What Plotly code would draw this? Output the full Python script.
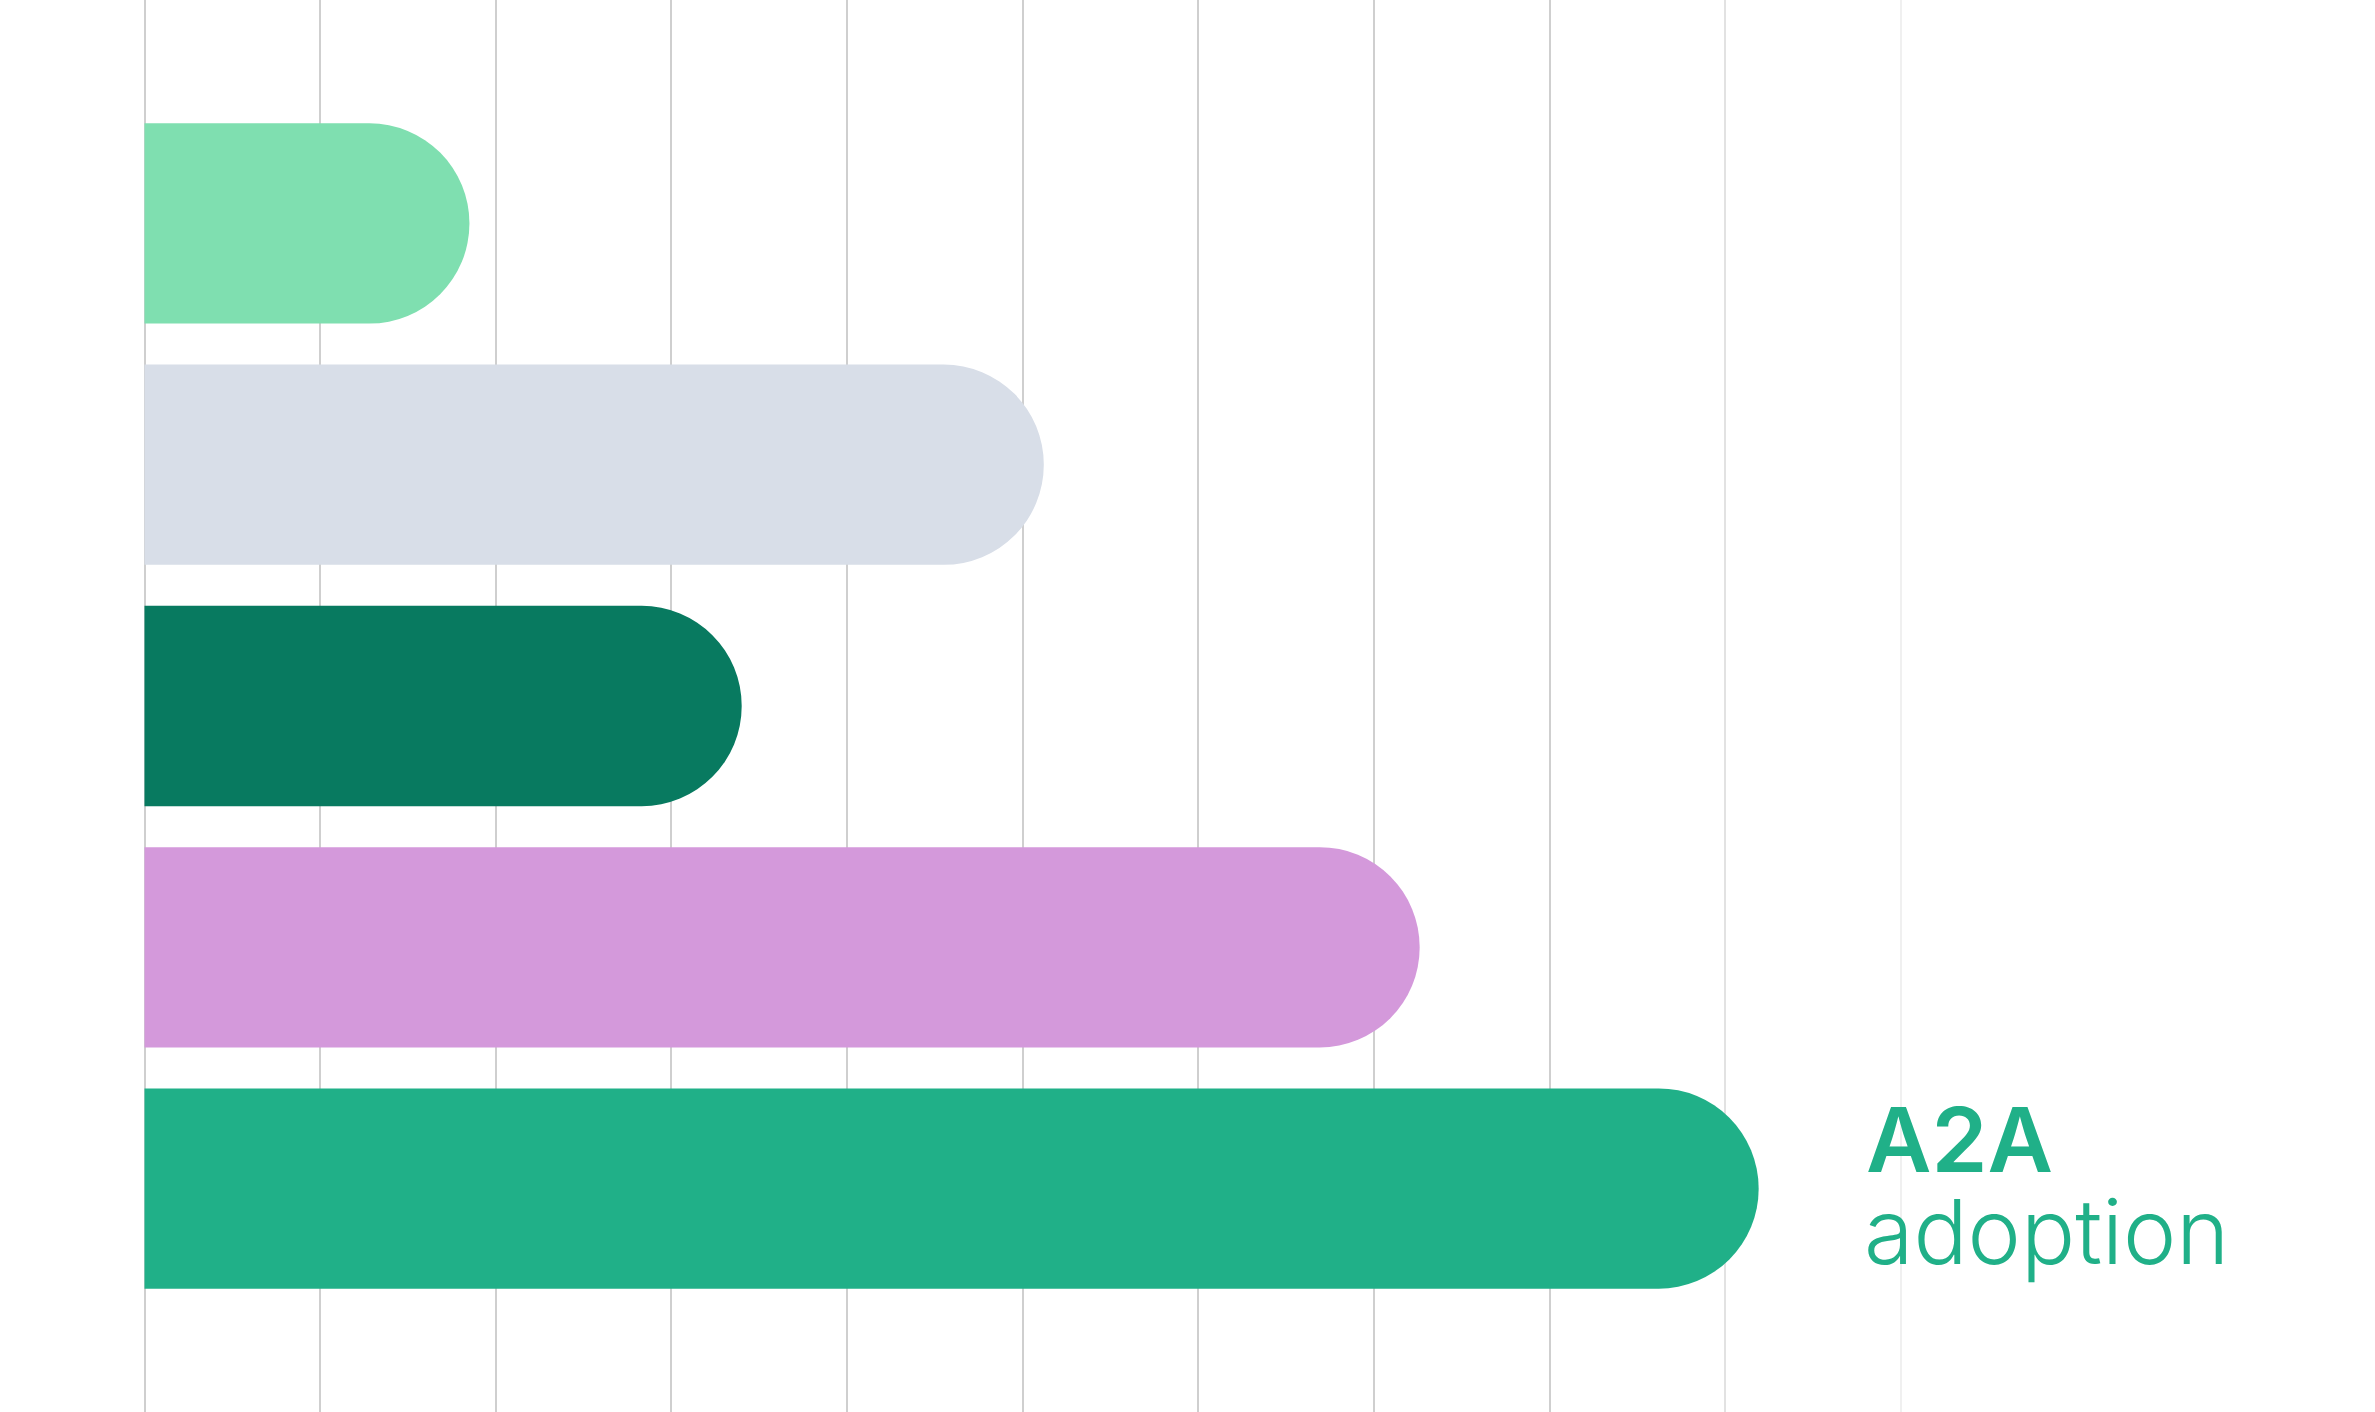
import plotly.graph_objects as go

# ---- data ----
categories = ["Segment 1", "Segment 2", "Segment 3", "Segment 4", "A2A adoption"]
values = [1.85, 5.12, 3.40, 7.26, 9.19]
bar_colors = ["#7fdfb0", "#d8dee8", "#087a60", "#d499db", "#20b088"]
grid_main = [0, 1, 2, 3, 4, 5, 6, 7, 8]
grid_fade1 = [9]
grid_fade2 = [10]
label_line1 = "A2A"
label_line2 = "adoption"

W, H = 2375, 1412
x_range = [-0.8227, 12.699]
y_range = [4.926, -0.926]

fig = go.Figure()
fig.add_trace(go.Bar(
    y=categories, x=values, orientation="h",
    marker=dict(color=bar_colors, cornerradius="50%", line=dict(width=0)),
    width=0.83, hoverinfo="x+y", showlegend=False,
))

axis_common = dict(range=x_range, showticklabels=False, ticks="", zeroline=False,
                   showline=False, gridwidth=2.4, tickmode="array")
fig.update_layout(
    width=W, height=H,
    margin=dict(l=0, r=0, t=0, b=0, pad=0),
    paper_bgcolor="white", plot_bgcolor="white",
    xaxis=dict(**axis_common, tickvals=grid_main, gridcolor="#cfcfcf", showgrid=True),
    xaxis2=dict(**axis_common, tickvals=grid_fade1, gridcolor="#e2e2e2", showgrid=True,
                overlaying="x", side="top"),
    xaxis3=dict(**axis_common, tickvals=grid_fade2, gridcolor="#f0f0f0", showgrid=True,
                overlaying="x", side="top"),
    yaxis=dict(range=y_range, showticklabels=False, ticks="", showgrid=False,
               zeroline=False, showline=False, type="category", categoryorder="array",
               categoryarray=categories),
    bargap=0.17,
)
# invisible traces to activate overlay axes
fig.add_trace(go.Scatter(x=[None], y=[None], xaxis="x2", showlegend=False, hoverinfo="skip"))
fig.add_trace(go.Scatter(x=[None], y=[None], xaxis="x3", showlegend=False, hoverinfo="skip"))

fig.add_annotation(text=label_line1, xref="paper", yref="paper", x=1864 / W, y=1 - 1139 / H,
                   xanchor="left", yanchor="middle", showarrow=False,
                   font=dict(family="Inter", size=90, color="#20b088", weight=600))
fig.add_annotation(text=label_line2, xref="paper", yref="paper", x=1862 / W, y=1 - 1231 / H,
                   xanchor="left", yanchor="middle", showarrow=False,
                   font=dict(family="Inter", size=90, color="#20b088", weight=300))

fig.write_html("out.html", config={"displayModeBar": False},
               post_script="document.body.style.margin='0';document.body.style.overflow='hidden';")
